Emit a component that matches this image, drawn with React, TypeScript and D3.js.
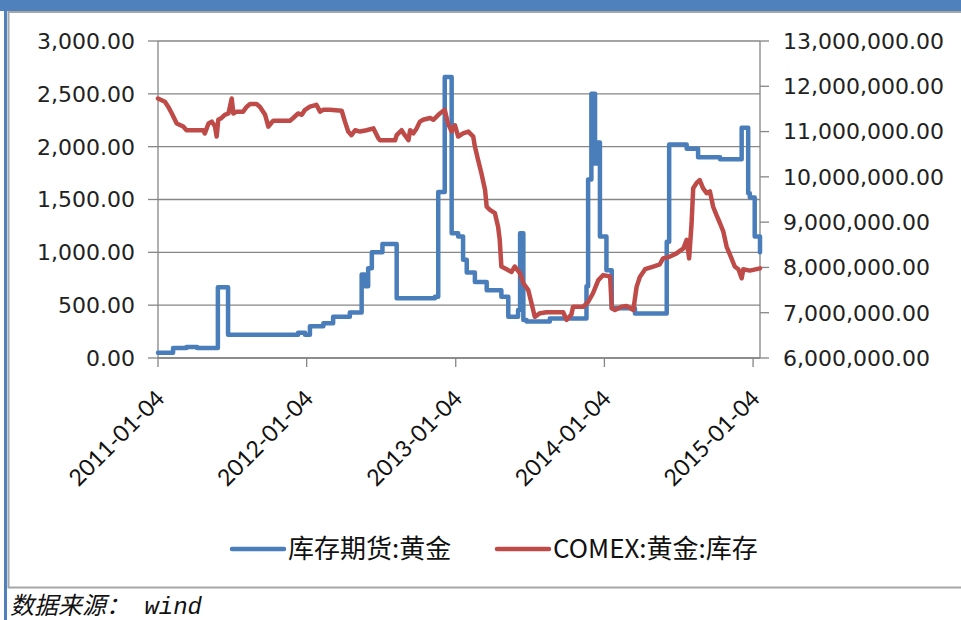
import React from "react";
import * as d3 from "d3";

const tickDates = ["2011-01-04", "2012-01-04", "2013-01-04", "2014-01-04", "2015-01-04"];
const leftTicks = [0, 500, 1000, 1500, 2000, 2500, 3000];
const rightTicks = [6000000, 7000000, 8000000, 9000000, 10000000, 11000000, 12000000, 13000000];

const blueName = "库存期货:黄金";
const redName = "COMEX:黄金:库存";
const sourceText = "数据来源： wind";

// 库存期货:黄金 (left axis) — step series: value holds from its date onward
const blueDates = [
  "2011-01-04", "2011-02-10", "2011-03-15", "2011-04-10", "2011-05-31", "2011-06-25",
  "2011-12-14", "2011-12-31", "2012-01-12", "2012-02-14", "2012-03-09", "2012-04-19",
  "2012-05-18", "2012-05-26", "2012-06-03", "2012-06-12", "2012-07-08", "2012-08-12",
  "2012-11-14", "2012-11-22", "2012-12-08", "2012-12-25", "2013-01-10", "2013-01-22",
  "2013-01-31", "2013-02-20", "2013-03-21", "2013-04-26", "2013-05-13", "2013-06-06",
  "2013-06-11", "2013-06-19", "2013-06-27", "2013-08-23", "2013-11-21", "2013-11-25",
  "2013-12-03", "2013-12-12", "2013-12-16", "2013-12-24", "2014-01-09", "2014-01-22",
  "2014-03-20", "2014-06-06", "2014-06-12", "2014-07-25", "2014-08-22", "2014-10-15",
  "2014-12-07", "2014-12-23", "2014-12-27", "2015-01-08", "2015-01-21",
];
const blueValues = [
  50, 95, 105, 95, 670, 220,
  240, 220, 300, 330, 390, 430,
  790, 680, 850, 1000, 1080, 565,
  580, 1570, 2660, 1180, 1150, 930,
  810, 720, 640, 580, 390, 455,
  1180, 360, 345, 375, 680, 1690,
  2500, 1840, 2040, 1150, 830, 470,
  420, 1100, 2020, 1980, 1900, 1880,
  2180, 1560, 1520, 1150, 1000,
];

// COMEX:黄金:库存 (right axis)
const redDates = [
  "2011-01-04", "2011-01-21", "2011-01-29", "2011-02-07", "2011-02-19", "2011-03-07",
  "2011-03-15", "2011-04-25", "2011-04-29", "2011-05-08", "2011-05-16", "2011-05-24",
  "2011-05-28", "2011-06-01", "2011-06-09", "2011-06-17", "2011-06-26", "2011-07-04",
  "2011-07-08", "2011-07-16", "2011-08-01", "2011-08-10", "2011-08-18", "2011-09-03",
  "2011-09-11", "2011-09-24", "2011-10-02", "2011-10-10", "2011-10-14", "2011-11-24",
  "2011-12-02", "2011-12-14", "2011-12-23", "2011-12-31", "2012-01-12", "2012-01-28",
  "2012-02-06", "2012-02-14", "2012-03-01", "2012-03-30", "2012-04-07", "2012-04-15",
  "2012-04-23", "2012-05-02", "2012-05-14", "2012-05-30", "2012-06-16", "2012-06-28",
  "2012-07-02", "2012-08-08", "2012-08-12", "2012-08-24", "2012-09-01", "2012-09-10",
  "2012-09-14", "2012-09-22", "2012-09-30", "2012-10-08", "2012-10-16", "2012-11-02",
  "2012-11-10", "2012-11-18", "2012-11-26", "2012-12-08", "2012-12-16", "2012-12-25",
  "2013-01-02", "2013-01-10", "2013-01-22", "2013-02-04", "2013-02-16", "2013-02-20",
  "2013-02-28", "2013-03-08", "2013-03-17", "2013-03-21", "2013-03-29", "2013-04-10",
  "2013-04-18", "2013-04-22", "2013-04-26", "2013-05-09", "2013-05-21", "2013-05-29",
  "2013-06-11", "2013-06-19", "2013-07-01", "2013-07-09", "2013-07-17", "2013-07-30",
  "2013-08-15", "2013-09-25", "2013-10-03", "2013-10-15", "2013-10-19", "2013-11-13",
  "2013-11-25", "2013-12-07", "2013-12-20", "2014-01-01", "2014-01-18", "2014-01-22",
  "2014-01-30", "2014-02-15", "2014-02-27", "2014-03-16", "2014-03-24", "2014-04-01",
  "2014-04-14", "2014-05-04", "2014-05-20", "2014-05-28", "2014-06-14", "2014-06-30",
  "2014-07-17", "2014-07-25", "2014-07-31", "2014-08-06", "2014-08-10", "2014-08-18",
  "2014-08-26", "2014-09-03", "2014-09-12", "2014-09-20", "2014-09-28", "2014-10-06",
  "2014-10-15", "2014-10-23", "2014-10-31", "2014-11-12", "2014-11-20", "2014-11-29",
  "2014-12-07", "2014-12-11", "2014-12-27", "2015-01-21",
];
const redValues = [
  11730000, 11660000, 11550000, 11400000, 11180000, 11110000,
  11030000, 11030000, 10960000, 11180000, 11220000, 11110000,
  10890000, 11260000, 11300000, 11370000, 11400000, 11730000,
  11400000, 11440000, 11440000, 11550000, 11610000, 11610000,
  11550000, 11370000, 11110000, 11200000, 11240000, 11240000,
  11300000, 11400000, 11370000, 11480000, 11550000, 11590000,
  11440000, 11480000, 11480000, 11460000, 11220000, 11000000,
  10920000, 11030000, 11000000, 11030000, 11070000, 10850000,
  10810000, 10810000, 10920000, 11030000, 10920000, 10810000,
  11030000, 10960000, 11070000, 11220000, 11260000, 11300000,
  11260000, 11330000, 11400000, 11480000, 11180000, 11000000,
  11140000, 10890000, 10960000, 11000000, 10890000, 10670000,
  10370000, 10080000, 9710000, 9340000, 9270000, 9200000,
  8900000, 8610000, 8020000, 7960000, 7900000, 8020000,
  7870000, 7650000, 7500000, 7210000, 6910000, 6990000,
  7010000, 7010000, 6840000, 6960000, 7130000, 7130000,
  7240000, 7430000, 7720000, 7830000, 7800000, 7100000,
  7060000, 7130000, 7150000, 7060000, 7570000, 7790000,
  7960000, 8020000, 8070000, 8200000, 8240000, 8310000,
  8420000, 8610000, 8200000, 8970000, 9750000, 9860000,
  9930000, 9750000, 9640000, 9680000, 9340000, 9160000,
  8970000, 8790000, 8460000, 8200000, 8020000, 7960000,
  7760000, 7960000, 7930000, 7980000,
];

const parse = d3.timeParse("%Y-%m-%d");

export default function App() {
  const W = 961;
  const H = 620;
  const left = 158;
  const right = 760;
  const top = 41;
  const bottom = 358;

  const x = d3.scaleTime().domain([parse("2011-01-04")!, parse("2015-01-21")!]).range([left, right]);
  const yL = d3.scaleLinear().domain([0, 3000]).range([bottom, top]);
  const yR = d3.scaleLinear().domain([6000000, 13000000]).range([bottom, top]);
  const fmt = d3.format(",.2f");

  const blue = blueDates.map((d, i) => ({ t: parse(d)!, v: blueValues[i] }));
  const red = redDates.map((d, i) => ({ t: parse(d)!, v: redValues[i] }));

  const blueLine = d3
    .line<{ t: Date; v: number }>()
    .x((d) => x(d.t))
    .y((d) => yL(d.v))
    .curve(d3.curveStepAfter);
  const redLine = d3
    .line<{ t: Date; v: number }>()
    .x((d) => x(d.t))
    .y((d) => yR(d.v));

  const blueColor = "#4a7ebb";
  const redColor = "#be4b48";
  const axisColor = "#868686";
  const numFont = "'DejaVu Sans', Verdana, sans-serif";

  return (
    <svg
      width={W}
      height={H}
      style={{ position: "absolute", left: 0, top: 0, background: "#fff" }}
    >
      {/* frame */}
      <rect x={0} y={0} width={W} height={11} fill="#4f81bd" />
      <rect x={4} y={0} width={3} height={H} fill="#4f81bd" />
      <rect x={8.5} y={12} width={W} height={575.5} fill="#fff" stroke="#a6a6a6" strokeWidth={2} />

      {/* gridlines */}
      {leftTicks.map((t) => (
        <line key={"g" + t} x1={left} x2={right} y1={yL(t)} y2={yL(t)} stroke={axisColor} strokeWidth={1.3} />
      ))}

      {/* left axis */}
      <line x1={left} x2={left} y1={top} y2={bottom} stroke={axisColor} strokeWidth={1.3} />
      {leftTicks.map((t) => (
        <g key={"l" + t}>
          <line x1={left - 10} x2={left} y1={yL(t)} y2={yL(t)} stroke={axisColor} strokeWidth={1.3} />
          <text
            x={135}
            y={yL(t)}
            dy="0.36em"
            textAnchor="end"
            fontFamily={numFont}
            fontSize={22}
            fill="#222"
          >
            {fmt(t)}
          </text>
        </g>
      ))}

      {/* right axis */}
      <line x1={right} x2={right} y1={top} y2={bottom} stroke={axisColor} strokeWidth={1.3} />
      {rightTicks.map((t) => (
        <g key={"r" + t}>
          <line x1={right} x2={right + 9} y1={yR(t)} y2={yR(t)} stroke={axisColor} strokeWidth={1.3} />
          <text
            x={783}
            y={yR(t)}
            dy="0.36em"
            textAnchor="start"
            fontFamily={numFont}
            fontSize={22}
            fill="#222"
          >
            {fmt(t)}
          </text>
        </g>
      ))}

      {/* bottom axis */}
      <line x1={left} x2={right} y1={bottom} y2={bottom} stroke={axisColor} strokeWidth={1.3} />
      {tickDates.map((d) => {
        const tx = x(parse(d)!);
        return (
          <g key={"x" + d}>
            <line x1={tx} x2={tx} y1={bottom} y2={bottom + 9} stroke={axisColor} strokeWidth={1.3} />
            <text
              transform={`translate(${tx + 8},${bottom + 42}) rotate(-45)`}
              textAnchor="end"
              fontFamily="Lato, 'Liberation Sans', sans-serif"
              fontSize={23}
              fill="#111"
            >
              {d}
            </text>
          </g>
        );
      })}

      {/* series */}
      <path d={blueLine(blue) || ""} fill="none" stroke={blueColor} strokeWidth={4.5} strokeLinejoin="round" strokeLinecap="round" />
      <path d={redLine(red) || ""} fill="none" stroke={redColor} strokeWidth={4.5} strokeLinejoin="round" strokeLinecap="round" />

      {/* legend */}
      <line x1={232} x2={284} y1={549} y2={549} stroke={blueColor} strokeWidth={4.5} strokeLinecap="round" />
      <text x={288} y={549} dy="0.36em" fontFamily="'Noto Sans CJK SC', sans-serif" fontSize={26} fill="#111">
        {blueName}
      </text>
      <line x1={497} x2={549} y1={549} y2={549} stroke={redColor} strokeWidth={4.5} strokeLinecap="round" />
      <text x={553} y={549} dy="0.36em" fontFamily="'Noto Sans CJK SC', sans-serif" fontSize={26} fill="#111">
        {redName}
      </text>

      {/* source */}
      <text
        x={10}
        y={614}
        fontFamily="'Liberation Mono', 'Noto Sans CJK SC', monospace"
        fontStyle="italic"
        fontSize={24}
        fill="#111"
      >
        {sourceText}
      </text>
    </svg>
  );
}
